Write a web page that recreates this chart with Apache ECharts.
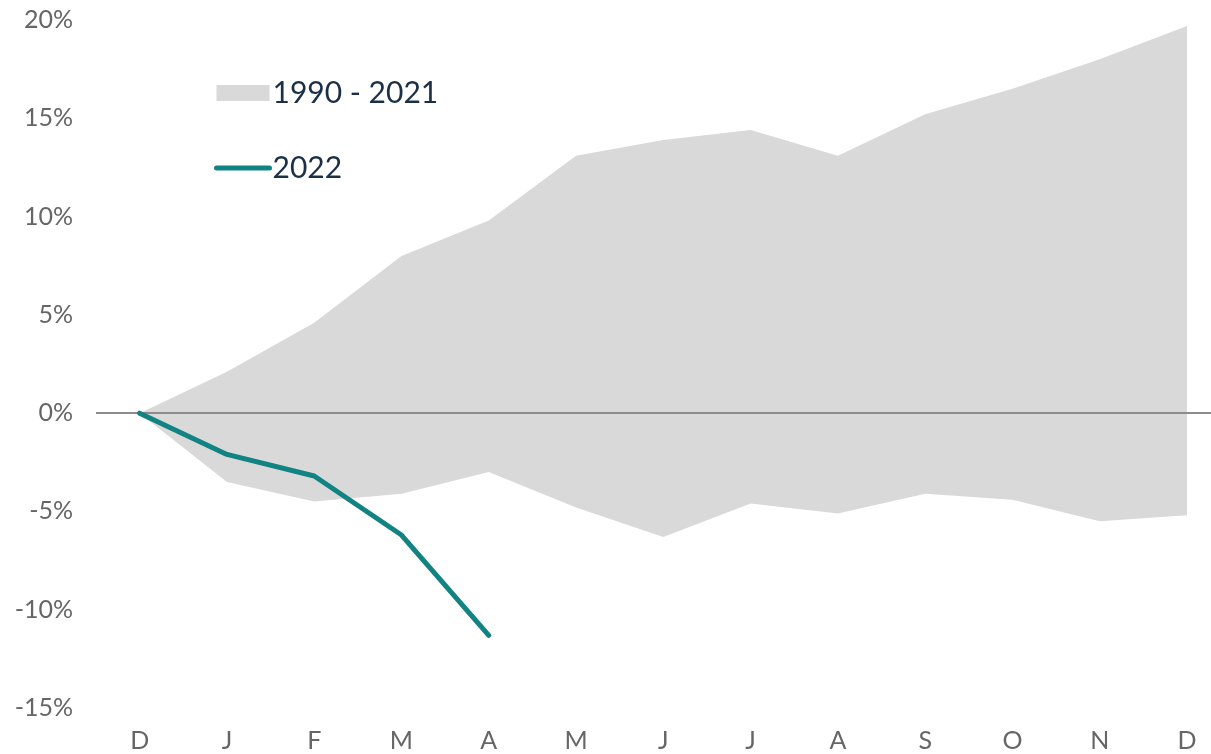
<!DOCTYPE html>
<html>
<head>
<meta charset="utf-8">
<script src="https://cdn.jsdelivr.net/npm/echarts@6/dist/echarts.min.js"></script>
<style>
  html, body { margin: 0; padding: 0; background: #fff; }
  #chart { width: 1211px; height: 754px; }
</style>
</head>
<body>
<div id="chart"></div>
<script>
const months = ['D', 'J', 'F', 'M', 'A', 'M', 'J', 'J', 'A', 'S', 'O', 'N', 'D']
const rangeHigh = [0, 2.1, 4.6, 8.0, 9.8, 13.1, 13.9, 14.4, 13.1, 15.2, 16.5, 18.0, 19.7]
const rangeLow = [0, -3.5, -4.5, -4.1, -3.0, -4.8, -6.3, -4.6, -5.1, -4.1, -4.4, -5.5, -5.2]
const year2022 = [0, -2.1, -3.2, -6.2, -11.3]

// month index on a value axis so the zero line can run past the first/last month
const pairs = arr => arr.map((v, i) => [i, v])
const monthIdx = months.map((m, i) => i)

const font = 'Lato, "Noto Sans", sans-serif'
const chart = echarts.init(document.getElementById('chart'))

chart.setOption({
  animation: false,
  grid: {
    left: 96,
    right: 0,
    top: 20,
    bottom: 46
  },
  legend: {
    orient: 'vertical',
    left: 209,
    top: 73,
    itemWidth: 53,
    itemHeight: 16,
    itemGap: 45,
    textStyle: {
      color: '#1b2f47',
      fontSize: 30,
      fontFamily: font,
      padding: [0, 0, 0, -2]
    },
    data: [
      { name: '1990 - 2021', icon: 'rect', itemStyle: { color: '#d9d9d9' } },
      {
        name: '2022',
        itemStyle: { color: 'transparent', borderWidth: 0 },
        lineStyle: { color: '#128383', width: 5, cap: 'round' }
      }
    ]
  },
  xAxis: {
    type: 'value',
    min: -0.5,
    max: 12.275,
    splitLine: { show: false },
    axisLine: { show: false },
    axisTick: { show: false },
    axisLabel: {
      customValues: monthIdx,
      formatter: v => months[Math.round(v)],
      color: '#666',
      fontSize: 25,
      fontFamily: font,
      margin: 20
    }
  },
  yAxis: {
    type: 'value',
    min: -15,
    max: 20,
    interval: 5,
    splitLine: { show: false },
    axisLine: { show: false },
    axisTick: { show: false },
    axisLabel: {
      formatter: '{value}%',
      color: '#666',
      fontSize: 25,
      fontFamily: font,
      margin: 23
    }
  },
  series: [
    {
      name: '1990 - 2021',
      type: 'line',
      data: pairs(rangeHigh),
      symbol: 'none',
      lineStyle: { width: 0 },
      itemStyle: { color: '#d9d9d9' },
      areaStyle: { color: '#d9d9d9', opacity: 1 },
      markLine: {
        silent: true,
        symbol: 'none',
        label: { show: false },
        lineStyle: { color: '#8c8c8c', width: 2, type: 'solid' },
        data: [{ yAxis: 0 }]
      }
    },
    {
      name: '1990 - 2021',
      type: 'line',
      data: pairs(rangeLow),
      symbol: 'none',
      lineStyle: { width: 0 },
      itemStyle: { color: '#d9d9d9' },
      areaStyle: { color: '#d9d9d9', opacity: 1 }
    },
    {
      name: '2022',
      type: 'line',
      data: pairs(year2022),
      symbol: 'none',
      z: 5,
      itemStyle: { color: '#128383' },
      lineStyle: { color: '#128383', width: 5, cap: 'round', join: 'round' }
    }
  ]
})
</script>
</body>
</html>
